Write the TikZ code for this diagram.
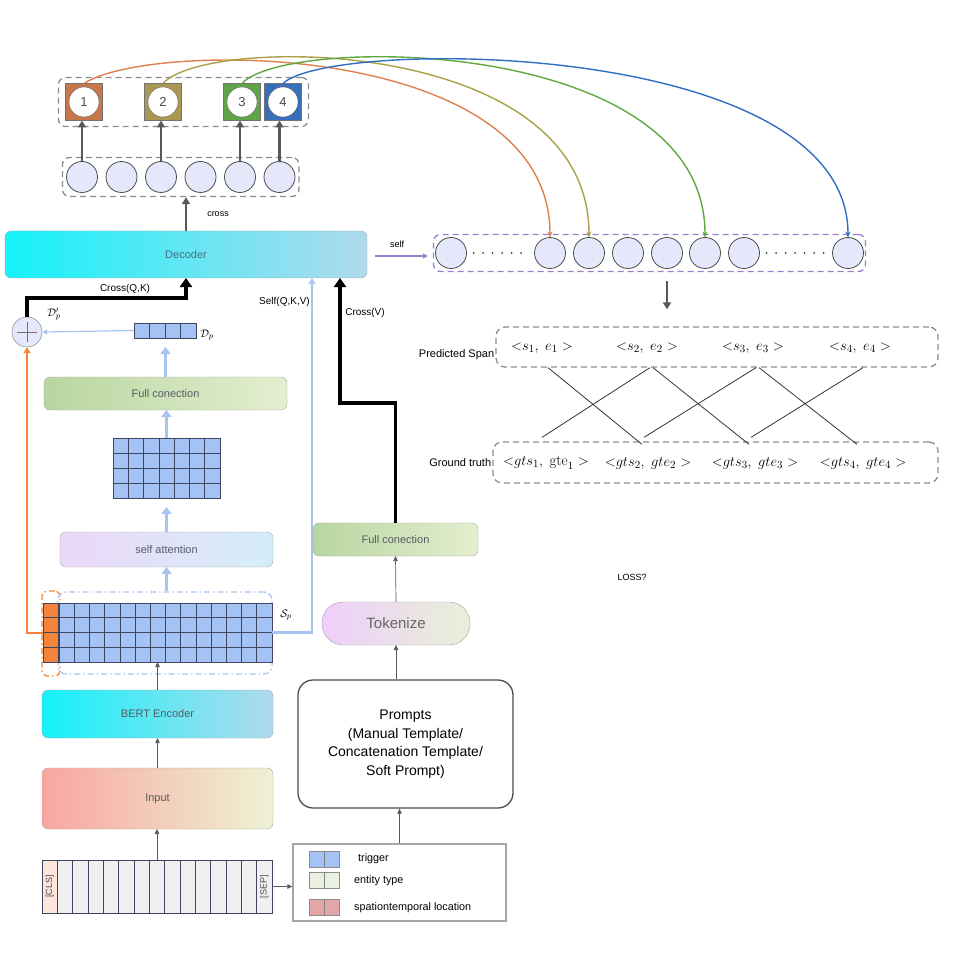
\documentclass[tikz,border=0pt]{standalone}
\usepackage{fontspec}
\setmainfont{Liberation Sans}
\setmathrm{Latin Modern Roman}
\definecolor{tagorange}{RGB}{200,118,76}
\definecolor{tagolive}{RGB}{168,152,84}
\definecolor{taggreen}{RGB}{96,164,72}
\definecolor{tagblue}{RGB}{56,110,186}
\definecolor{linkorange}{RGB}{222,128,78}
\definecolor{linkolive}{RGB}{170,160,70}
\definecolor{linkgreen}{RGB}{96,168,64}
\definecolor{linkblue}{RGB}{48,110,196}
\definecolor{paleblue}{RGB}{168,196,240}
\definecolor{cellblue}{RGB}{164,194,244}
\definecolor{gridline}{RGB}{60,70,96}
\definecolor{colorange}{RGB}{244,132,60}
\definecolor{unitfill}{RGB}{228,232,250}
\definecolor{selfpurple}{RGB}{150,130,204}
\definecolor{boxtext}{RGB}{84,92,100}
\definecolor{dectext}{RGB}{70,112,130}
\definecolor{cyanleft}{RGB}{20,242,250}
\definecolor{cyanright}{RGB}{176,218,236}
\definecolor{greenleft}{RGB}{184,214,160}
\definecolor{greenright}{RGB}{228,238,208}
\definecolor{lilacleft}{RGB}{236,216,248}
\definecolor{lilacright}{RGB}{212,238,248}
\definecolor{redleft}{RGB}{248,166,160}
\definecolor{redright}{RGB}{238,242,212}
\definecolor{tokleft}{RGB}{238,206,250}
\definecolor{tokright}{RGB}{232,240,216}
\definecolor{tokcell}{RGB}{240,240,240}
\definecolor{clscell}{RGB}{252,230,220}
\definecolor{entitycell}{RGB}{234,240,224}
\definecolor{placecell}{RGB}{226,166,166}
\usetikzlibrary{calc}
\usetikzlibrary{positioning}
\usetikzlibrary{arrows.meta,fit}

\tikzset{
  block/.style={draw=black!35, rounded corners=6pt, inner sep=0pt, outer sep=0pt,
    font=\fontsize{11}{13}\selectfont, text=boxtext},
  unit/.style={circle, draw=black!70, fill=unitfill, minimum size=31pt, inner sep=0pt,
    outer sep=0pt, line width=0.8pt},
  tagbox/.style={draw=black!55, minimum size=37pt, inner sep=0pt, outer sep=0pt},
  tagnum/.style={circle, draw=black!60, fill=white, minimum size=30pt, inner sep=0pt,
    font=\fontsize{13}{15}\selectfont, text=black!70},
  groupbox/.style={draw=black!45, dash pattern=on 6pt off 4pt, line width=1.3pt,
    rounded corners=7pt, inner sep=0pt},
  spanbox/.style={groupbox, rounded corners=9pt},
  cellrow/.style={draw=gridline, fill=cellblue, inner sep=0pt, outer sep=0pt, line width=0.7pt},
  cellsep/.style={draw=gridline, line width=0.6pt},
  dashdot/.style={dash pattern=on 6pt off 3pt on 1.5pt off 3pt, line width=1.3pt, inner sep=0pt},
  grayup/.style={-{Triangle[length=7pt,width=8pt]}, line width=2.8pt, draw=black!65},
  blueup/.style={-{Triangle[length=7pt,width=10pt]}, line width=3pt, draw=paleblue},
  thinup/.style={-{Triangle[length=5pt,width=4.5pt]}, line width=0.7pt, draw=black!65},
  crossarrow/.style={-{Triangle[length=9pt,width=12pt]}, line width=3.5pt, draw=black},
  bluelink/.style={-{Triangle[length=6pt,width=7pt]}, line width=2.4pt, draw=paleblue},
  orangelink/.style={-{Triangle[length=6pt,width=7pt]}, line width=2pt, draw=colorange},
  paleline/.style={-{Triangle[length=5pt,width=5pt]}, line width=1.2pt, draw=paleblue},
  selfarrow/.style={-{Triangle[length=5pt,width=5pt]}, line width=1.2pt, draw=selfpurple},
  spancurve/.style={-{Stealth[length=6pt,width=5pt]}, line width=1.4pt},
  matchline/.style={line width=0.8pt, draw=black!80},
  dotrow/.style={line width=2pt, line cap=round, dash pattern=on 0pt off 9.5pt,
    shorten <=7pt, shorten >=5pt, draw=black!75},
  smalltext/.style={font=\fontsize{9}{11}\selectfont, inner sep=1pt},
  midtext/.style={font=\fontsize{10}{12}\selectfont, inner sep=1pt},
  sidetext/.style={font=\fontsize{11}{13}\selectfont, inner sep=1pt},
  legendtext/.style={font=\fontsize{10.8}{12}\selectfont, inner sep=0pt},
  mathtext/.style={font=\fontsize{11}{13}\selectfont, inner sep=0pt},
  spantext/.style={font=\fontsize{15}{17}\selectfont, inner sep=0pt},
  tokentext/.style={font=\fontsize{9}{11}\selectfont, inner sep=0pt, text=black!70},
  swatch/.style={draw=black!45, minimum width=30pt, minimum height=16pt, inner sep=0pt},
}

\begin{document}
\begin{tikzpicture}[x=1pt,y=-1pt]
  \useasboundingbox (0,0) rectangle (955,957);

  % output slots
  \foreach \x/\col [count=\i] in {84/tagorange,163/tagolive,242/taggreen,283/tagblue}{
    \node[tagbox, fill=\col] (b\i) at (\x,102) {};
    \node[tagnum] (n\i) at (b\i) {\i};
  }
  \node[groupbox, fit=(b1)(b4), inner xsep=7pt, inner ysep=6pt] (bgroup) {};

  % decoder outputs
  \foreach \x [count=\i] in {82,121.5,161,200.5,240,279.5}
    \node[unit] (h\i) at (\x,177) {};
  \node[groupbox, fit=(h1)(h6), inner xsep=4pt, inner ysep=4pt] (hgroup) {};
  \foreach \h/\b in {1/1,3/2,5/3,6/4}
    \draw[grayup] (h\h.north) -- (h\h.north |- b\b.south);

  \node[block, left color=cyanleft, right color=cyanright, minimum width=362pt,
    minimum height=47pt, text=dectext] (decoder) at (186,254.5) {Decoder};
  \draw[grayup] (decoder.north) -- (decoder.north |- hgroup.south);
  \node[smalltext] (crosslabel) at (218,214) {cross};

  % self attention outputs
  \foreach \x [count=\i] in {451,550,589,628,667,705,744,848}
    \node[unit] (sr\i) at (\x,253) {};
  \node[groupbox, draw=selfpurple, fit=(sr1)(sr8), inner xsep=2pt, inner ysep=3pt] (selfrow) {};
  \draw[dotrow] (sr1.east) -- (sr2.west);
  \draw[dotrow] (sr7.east) -- (sr8.west);
  \draw[selfarrow] ($(decoder.east)+(8,1.5)$) -- ($(decoder.east -| selfrow.west)+(-5,1.5)$);
  \node[smalltext] (selflabel) at (397,244) {self};

  % spans
  \node[spanbox, minimum width=442pt, minimum height=40pt] (predbox) at (717,347) {};
  \node[spanbox, minimum width=445pt, minimum height=41pt] (gtbox) at (715.5,462.5) {};
  \node[sidetext, anchor=east] (predlabel) at ([yshift=-8pt]predbox.west) {Predicted Span};
  \node[sidetext, anchor=east] (gtlabel) at (gtbox.west) {Ground truth};
  \foreach \x [count=\i] in {542,647,753,860}
    \node[spantext] (p\i) at (\x,348) {${<}s_\i,\ e_\i\ {>}$};
  \node[spantext] (g1) at (546,463) {${<}gts_1,\ \mathrm{gte}_1\ {>}$};
  \foreach \x [count=\i from 2] in {648,755,863}
    \node[spantext] (g\i) at (\x,463) {${<}gts_\i,\ gte_\i\ {>}$};
  \foreach \a/\b in {1/2,2/3,3/4}{
    \draw[matchline] ($(p\a |- predbox.south)+(6,0)$) -- ($(g\b |- gtbox.north)+(-6,3)$);
    \draw[matchline] ($(g\a |- gtbox.north)+(-4,-4)$) -- ($(p\b |- predbox.south)+(3,0)$);
  }
  \draw[grayup, shorten <=9pt, shorten >=17pt] (sr5 |- selfrow.south) -- (sr5 |- predbox.north);
  \node[smalltext] (loss) at (632,577) {LOSS?};

  % event branch
  \node[circle, draw=black!55, fill=unitfill, minimum size=30pt, inner sep=0pt] (plus) at (27,332) {};
  \draw[black!55, line width=0.8pt] ($(plus.center)+(-10,0)$) -- ($(plus.center)+(10,0)$)
    ($(plus.center)+(0,-10)$) -- ($(plus.center)+(0,10)$);
  \node[mathtext] (dpprime) at (54,314) {$\mathcal{D}'_p$};
  \node[cellrow, minimum width=62pt, minimum height=15pt] (dp) at (165,330.5) {};
  \foreach \k in {1,2,3}
    \draw[cellsep] ($(dp.north west)!\k/4!(dp.north east)$) -- ($(dp.south west)!\k/4!(dp.south east)$);
  \node[mathtext] (dplabel) at (207,335) {$\mathcal{D}_p$};
  \draw[paleline] (dp.west) -- (plus.east);
  \draw[crossarrow] (plus.north) -- ++(0,-19) -| (decoder.south);
  \node[midtext] (crossqk) at (125,289) {Cross(Q,K)};

  \node[block, left color=greenleft, right color=greenright, minimum width=243pt,
    minimum height=33pt] (fcleft) at (165.5,393.5) {Full conection};
  \node[cellrow, minimum width=107pt, minimum height=60pt] (attnmap) at (166.5,468) {};
  \foreach \k in {1,...,6}
    \draw[cellsep] ($(attnmap.north west)!\k/7!(attnmap.north east)$) -- ($(attnmap.south west)!\k/7!(attnmap.south east)$);
  \foreach \k in {1,2,3}
    \draw[cellsep] ($(attnmap.north west)!\k/4!(attnmap.south west)$) -- ($(attnmap.north east)!\k/4!(attnmap.south east)$);
  \node[block, left color=lilacleft, right color=lilacright, minimum width=213pt,
    minimum height=35pt] (selfatt) at (166.5,549.5) {self attention};

  % sentence matrix
  \node[dashdot, draw=colorange, rounded corners=5pt, minimum width=18pt, minimum height=85pt] (oregion) at (51,633.5) {};
  \node[dashdot, draw=paleblue, rounded corners=8pt, minimum width=214pt, minimum height=82pt] (spregion) at (165,633) {};
  \node[cellrow, fill=colorange, minimum width=15pt, minimum height=59pt] (ocol) at (50.5,632.5) {};
  \node[cellrow, minimum width=213pt, minimum height=59pt] (spgrid) at (165.5,632.5) {};
  \foreach \k in {1,...,13}
    \draw[cellsep] ($(spgrid.north west)!\k/14!(spgrid.north east)$) -- ($(spgrid.south west)!\k/14!(spgrid.south east)$);
  \foreach \k in {1,2,3}{
    \draw[cellsep] ($(spgrid.north west)!\k/4!(spgrid.south west)$) -- ($(spgrid.north east)!\k/4!(spgrid.south east)$);
    \draw[cellsep] ($(ocol.north west)!\k/4!(ocol.south west)$) -- ($(ocol.north east)!\k/4!(ocol.south east)$);
  }
  \node[mathtext] (splabel) at (286,615) {$\mathcal{S}_p$};
  \draw[orangelink] (ocol.west) -| (plus.south);
  \draw[bluelink] (spgrid.east) -| ($(decoder.south west)+(307,0)$);
  \node[midtext, anchor=east] (selfqkv) at (311,302) {Self(Q,K,V)};
  \draw[blueup] (selfatt.south |- spregion.north) -- (selfatt.south);
  \draw[blueup, shorten >=9pt] (selfatt.north) -- (attnmap.south);
  \draw[blueup] (attnmap.north) -- (attnmap.north |- fcleft.south);
  \draw[blueup, shorten >=9pt] (fcleft.north) -- (fcleft.north |- dp.south);

  % encoder and input
  \node[block, left color=cyanleft, right color=cyanright, minimum width=231pt,
    minimum height=48pt] (bert) at (157.5,714) {BERT Encoder};
  \node[block, left color=redleft, right color=redright, minimum width=231pt,
    minimum height=61pt] (input) at (157.5,798.5) {Input};
  \node[cellrow, fill=tokcell, minimum width=230pt, minimum height=53pt] (tokens) at (157,886.5) {};
  \fill[clscell] ($(tokens.south west)+(0.5,-0.5)$) rectangle ($(tokens.north west)+(15.33,0.5)$);
  \foreach \k in {1,...,14}
    \draw[cellsep] ($(tokens.north west)!\k/15!(tokens.north east)$) -- ($(tokens.south west)!\k/15!(tokens.south east)$);
  \node[tokentext, rotate=90] (cls) at ($(tokens.west)+(7.7,0)$) {[CLS]};
  \node[tokentext, rotate=90] (sep) at ($(tokens.east)+(-7.7,0)$) {[SEP]};
  \draw[thinup] (tokens.north) -- (tokens.north |- input.south);
  \draw[thinup] (input.north) -- (bert.south);
  \draw[thinup] (bert.north) -- (bert.north |- spgrid.south);

  % legend
  \node[draw=black!35, line width=1.4pt, minimum width=213pt, minimum height=77pt, inner sep=0pt] (legend) at (399.5,882.5) {};
  \draw[thinup] (tokens.east) -- (tokens.east -| legend.west);
  \foreach \y/\col/\lbl/\xt [count=\i] in {859/cellblue/trigger/358,880.5/entitycell/entity type/354,907.5/placecell/spationtemporal location/354}{
    \node[swatch, fill=\col] (sw\i) at (324,\y) {};
    \draw[black!50] (sw\i.north) -- (sw\i.south);
    \node[legendtext, anchor=west] (lt\i) at (\xt,\y) {\lbl};
  }

  % prompt branch
  \node[draw=black!70, line width=1.3pt, rounded corners=15pt, minimum width=215pt,
    minimum height=128pt, align=center, font=\fontsize{14}{18.5}\selectfont] (prompts) at (405.5,744)
    {Prompts\\(Manual Template/\\Concatenation Template/\\Soft Prompt)};
  \draw[thinup] (legend.north) -- (legend.north |- prompts.south);
  \node[block, rounded corners=21pt, left color=tokleft, right color=tokright, minimum width=148pt,
    minimum height=43pt, font=\fontsize{15}{17}\selectfont, text=black!60] (tokenize) at (396,623.5) {Tokenize};
  \draw[thinup] (tokenize |- prompts.north) -- (tokenize.south);
  \node[block, left color=greenleft, right color=greenright, minimum width=165pt,
    minimum height=33pt] (fcright) at (395.5,539.5) {Full conection};
  \draw[thinup] (tokenize.north) -- (fcright.south);
  \draw[crossarrow] (fcright.north) -- ++(0,-120) -| ($(decoder.south west)+(335,0)$);
  \node[midtext] (crossv) at (365,313) {Cross(V)};

  % slot to position links
  \draw[spancurve, linkorange] (b1.north) .. controls (150,40) and (550,40) .. (sr2.north);
  \draw[spancurve, linkolive] (b2.north) .. controls (205,35) and (589,35) .. (sr3.north);
  \draw[spancurve, linkgreen] (b3.north) .. controls (285,35) and (705,35) .. (sr6.north);
  \draw[spancurve, linkblue] (b4.north) .. controls (330,38) and (848,38) .. (sr8.north);
\end{tikzpicture}
\end{document}
